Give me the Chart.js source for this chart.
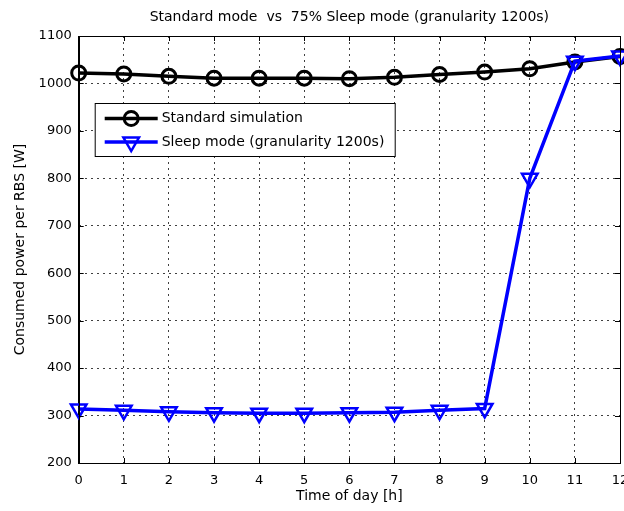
<!DOCTYPE html>
<html>
<head>
<meta charset="utf-8">
<title>Standard mode vs 75% Sleep mode</title>
<script src="https://cdn.jsdelivr.net/npm/chart.js@4.4.0/dist/chart.umd.min.js"></script>
<style>
    html, body { margin: 0; padding: 0; background: #fff; }
    #wrap { width: 624px; height: 511px; }
</style>
</head>
<body>
<div id="wrap"><canvas id="powerChart" width="624" height="511"></canvas></div>
<script>
// Data
const hours = [0, 1, 2, 3, 4, 5, 6, 7, 8, 9, 10, 11, 12];
const standardPower = [1022, 1020, 1015, 1011, 1011, 1011, 1010, 1013, 1019, 1024, 1031, 1045, 1057];
const sleepPower = [314, 311, 308, 306, 305, 305, 306, 307, 311, 315, 800, 1047, 1058];

const seriesNames = ['Standard simulation', 'Sleep mode (granularity 1200s)'];
const chartTitle = 'Standard mode  vs  75% Sleep mode (granularity 1200s)';
const xTitle = 'Time of day [h]';
const yTitle = 'Consumed power per RBS [W]';

const FONT = "'DejaVu Sans', sans-serif";

/**
 * Solid box round the plot and inward ticks on all four sides
 */
const frameTicks = {
    id: 'frameTicks',
    afterDatasetsDraw(chart) {
        const { ctx, chartArea: a, scales } = chart;
        const len = 5;
        ctx.save();
        ctx.strokeStyle = '#000';
        ctx.lineWidth = 1;
        ctx.beginPath();
        scales.x.ticks.forEach(t => {
            const px = Math.round(scales.x.getPixelForValue(t.value)) + 0.5;
            ctx.moveTo(px, a.bottom); ctx.lineTo(px, a.bottom - len);
            ctx.moveTo(px, a.top); ctx.lineTo(px, a.top + len);
        });
        scales.y.ticks.forEach(t => {
            const py = Math.round(scales.y.getPixelForValue(t.value)) + 0.5;
            ctx.moveTo(a.left, py); ctx.lineTo(a.left + len, py);
            ctx.moveTo(a.right, py); ctx.lineTo(a.right - len, py);
        });
        ctx.stroke();
        ctx.strokeRect(Math.round(a.left) + 0.5, Math.round(a.top) + 0.5,
            Math.round(a.right - a.left), Math.round(a.bottom - a.top));
        ctx.restore();
    }
};

/**
 * MATLAB style legend box inside the plot
 */
function drawMarker(ctx, style, x, y, color) {
    ctx.save();
    ctx.strokeStyle = color;
    ctx.lineWidth = style === 'circle' ? 3 : 2.5;
    ctx.beginPath();
    if (style === 'circle') {
        ctx.arc(x, y, 7, 0, Math.PI * 2);
    } else {
        const r = 9;
        ctx.moveTo(x - r * 0.866, y - r * 0.5);
        ctx.lineTo(x + r * 0.866, y - r * 0.5);
        ctx.lineTo(x, y + r);
        ctx.closePath();
    }
    ctx.stroke();
    ctx.restore();
}

const legendBox = {
    id: 'legendBox',
    afterDraw(chart) {
        const ctx = chart.ctx;
        const a = chart.chartArea;
        const bx = a.left + 16.5, by = a.top + 67.5, bw = 300, bh = 53;
        ctx.save();
        ctx.fillStyle = '#fff';
        ctx.fillRect(bx, by, bw, bh);
        ctx.strokeStyle = '#000';
        ctx.lineWidth = 1;
        ctx.strokeRect(bx, by, bw, bh);

        const rows = [
            { y: by + 15, color: '#000000', marker: 'circle', text: seriesNames[0] },
            { y: by + 38.5, color: '#0000ff', marker: 'triangle', text: seriesNames[1] }
        ];
        rows.forEach(r => {
            ctx.strokeStyle = r.color;
            ctx.lineWidth = 3.5;
            ctx.beginPath();
            ctx.moveTo(bx + 9.5, r.y);
            ctx.lineTo(bx + 62.5, r.y);
            ctx.stroke();
            drawMarker(ctx, r.marker, bx + 36, r.y, r.color);
            ctx.fillStyle = '#000';
            ctx.font = '14px ' + FONT;
            ctx.textBaseline = 'middle';
            ctx.textAlign = 'left';
            ctx.fillText(r.text, bx + 66.5, r.y);
        });
        ctx.restore();
    }
};

const ctx = document.getElementById('powerChart').getContext('2d');

new Chart(ctx, {
    type: 'line',
    data: {
        datasets: [
            {
                label: seriesNames[0],
                data: hours.map((h, i) => ({ x: h, y: standardPower[i] })),
                borderColor: '#000000',
                borderWidth: 3.5,
                pointStyle: 'circle',
                pointRadius: 7,
                pointBorderWidth: 3,
                pointBackgroundColor: 'rgba(0,0,0,0)',
                pointBorderColor: '#000000',
                tension: 0,
                clip: false,
                order: 2
            },
            {
                label: seriesNames[1],
                data: hours.map((h, i) => ({ x: h, y: sleepPower[i] })),
                borderColor: '#0000ff',
                borderWidth: 3.5,
                pointStyle: 'triangle',
                rotation: 180,
                pointRadius: 9,
                pointBorderWidth: 2.5,
                pointBackgroundColor: 'rgba(0,0,0,0)',
                pointBorderColor: '#0000ff',
                tension: 0,
                clip: false,
                order: 1
            }
        ]
    },
    options: {
        responsive: false,
        animation: false,
        layout: { autoPadding: false, padding: { left: 0, right: 4, top: 0, bottom: 0 } },
        plugins: {
            legend: { display: false },
            tooltip: { enabled: false },
            title: {
                display: true,
                text: chartTitle,
                fullSize: false,
                color: '#000',
                font: { family: FONT, size: 14, weight: 'normal' },
                padding: { top: 9, bottom: 10.2 }
            }
        },
        scales: {
            x: {
                type: 'linear',
                min: 0,
                max: 12,
                afterFit: s => { s.height = 48; s.paddingLeft = 0; s.paddingRight = 0; },
                ticks: {
                    stepSize: 1,
                    color: '#000',
                    padding: 9.5,
                    maxRotation: 0,
                    font: { family: FONT, size: 13 }
                },
                grid: { color: 'rgba(0,0,0,0.75)', lineWidth: 1, drawTicks: false },
                border: { display: true, color: '#000', width: 1, dash: [2, 4] },
                title: {
                    display: true,
                    text: xTitle,
                    color: '#000',
                    font: { family: FONT, size: 14 },
                    padding: { top: 0, bottom: 6.6 }
                }
            },
            y: {
                min: 200,
                max: 1100,
                afterFit: s => { s.width = 78.7; s.paddingTop = 0; s.paddingBottom = 0; },
                ticks: {
                    stepSize: 100,
                    color: '#000',
                    padding: 7,
                    font: { family: FONT, size: 13 },
                    callback: value => String(value)
                },
                grid: { color: 'rgba(0,0,0,0.75)', lineWidth: 1, drawTicks: false },
                border: { display: true, color: '#000', width: 1, dash: [2, 4] },
                title: {
                    display: true,
                    text: yTitle,
                    color: '#000',
                    font: { family: FONT, size: 14 },
                    padding: { top: 11.5, bottom: 0 }
                }
            }
        }
    },
    plugins: [frameTicks, legendBox]
});
</script>
</body>
</html>
